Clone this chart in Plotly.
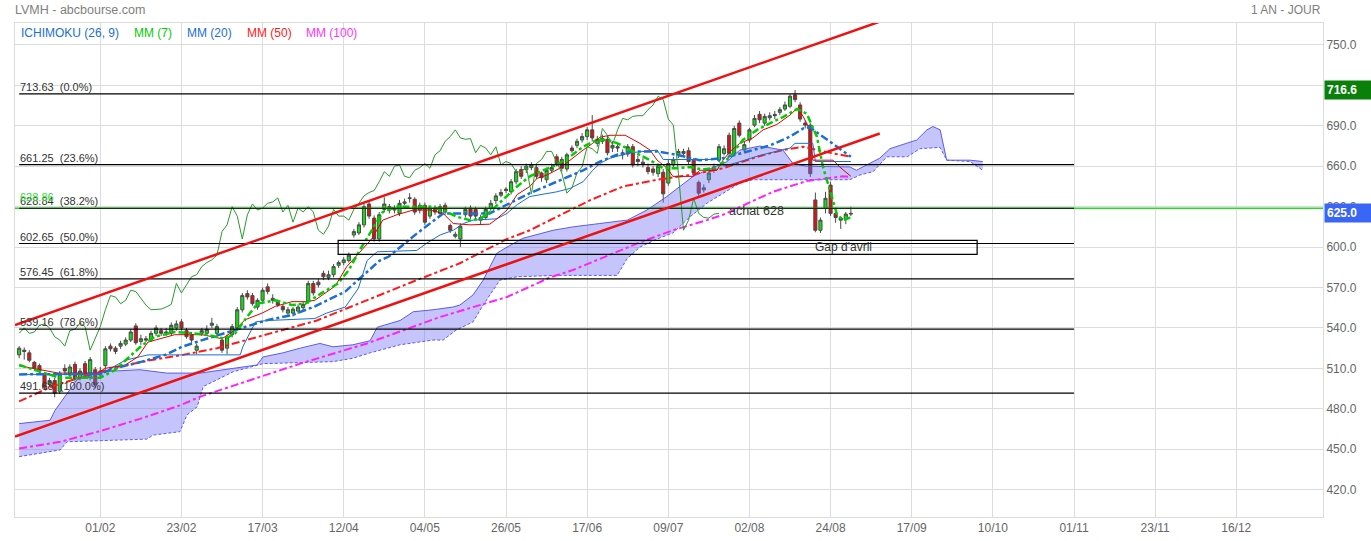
import plotly.graph_objects as go

# ---------------- data ----------------
BAR_INDEX = list(range(-16, 149))
OPEN = [520, 523.5, 521.5, 514.5, 512, 505, 498, 501, 493, 510, 505, 513, 503, 513.5, 503, 509,
        505, 512, 526.5, 525, 526.5, 528, 531, 541.5, 530, 532, 531, 536, 538, 536, 536, 540,
        544.5, 538, 535, 523.5, 536, 536, 542, 536, 531, 525, 535, 540, 553.5, 565.5, 564, 555.5,
        560.5, 570.5, 560.5, 559, 556, 551, 551, 552.5, 555, 560, 573, 574, 580.5, 577.5, 579.5, 586.5,
        588.5, 590, 609, 610.5, 616.5, 632, 621.5, 606, 628, 630, 627.5, 625, 632.5, 636, 635.5, 627.5,
        631, 623, 629, 625, 631, 616, 608, 606, 624, 629, 628, 622, 622, 629, 634.5, 638.5,
        643, 641, 648.5, 657.5, 657.5, 659, 659, 655, 650, 657, 667, 665, 658, 673.5, 675.5, 679.5,
        682, 687, 677, 678.5, 680, 673.5, 674.5, 670, 669, 674.5, 665, 663, 659, 658, 654.5, 655.5,
        647.5, 661, 668.5, 669.5, 671.5, 664.5, 648, 642.5, 650, 657, 664.5, 669.5, 683, 669.5, 692, 672,
        679.5, 690.5, 698.5, 692, 696, 698.5, 700, 702.5, 704.5, 713, 705.5, 692, 690.5, 635, 612.5, 628.8,
        646, 625, 620, 621, 624.5]
HIGH = [526.5, 525.5, 523.5, 515.5, 513.5, 507, 503, 503, 508, 513, 513, 515, 510, 515.5, 518.5, 511,
        511, 526.5, 528.5, 526.5, 530.5, 533, 539, 543.5, 535, 534, 538, 542, 540, 540, 544, 545.5,
        546.5, 540, 537, 528.5, 540, 542, 547.5, 543, 533, 535, 543, 555.5, 566, 568, 566, 562,
        570, 573, 565, 561, 557.5, 555.5, 555.5, 557.5, 559.5, 575, 575, 576.5, 582.5, 582.5, 587.5, 590,
        592.5, 596, 613.5, 618.5, 632, 634, 623.5, 626, 637, 632, 631, 635, 636, 640, 637, 633,
        633, 631, 631, 632, 633, 617.5, 611.5, 617.5, 630, 631, 630, 624, 630, 635, 640, 643,
        644.5, 650.5, 658, 660, 662, 663, 661, 656, 659, 662, 669, 667, 670, 675.5, 680.5, 684.5,
        689, 698, 682.5, 683.5, 682.5, 678.5, 677.5, 672.5, 676.5, 676.5, 668, 666, 662, 660, 662, 658,
        665, 667, 673, 673, 674, 666, 649.5, 646.5, 657, 662, 676.5, 675.5, 685, 690, 694, 678,
        688.5, 698, 701, 699, 700, 701, 704, 708, 713.5, 716.6, 707.5, 694, 692, 640.5, 622, 641,
        648.5, 627, 622, 626, 630]
LOW = [517.5, 516.5, 514.5, 508, 506, 494, 496, 488.5, 491, 506, 503, 500, 501, 504, 501, 495,
       503, 510, 522.5, 520.5, 524.5, 526.5, 529.5, 527.5, 527.5, 529.5, 529.5, 534, 534, 534, 534, 538,
       538, 532, 529, 520.5, 534, 534, 540, 534, 521.5, 520.5, 533, 538, 551.5, 561, 556.5, 553.5,
       558, 565, 558, 555.5, 551.5, 548.5, 548.5, 550.5, 552.5, 558, 564, 570, 575.5, 575.5, 577.5, 584.5,
       586.5, 588.5, 607, 609, 614.5, 621, 604, 604, 626, 625, 625, 623, 631, 633, 624, 625,
       616.5, 621, 624, 623, 624, 610.5, 606.5, 600, 622, 621, 621, 617, 620, 627, 632, 637,
       640, 639, 646.5, 650.5, 655, 657, 650.5, 648.5, 647.5, 655, 660, 656, 656, 670, 673.5, 677.5,
       679.5, 678.5, 674.5, 676.5, 668, 670.5, 670.5, 665, 667, 659, 660, 659, 654, 653, 652, 633,
       645.5, 659, 666, 668, 661, 652.5, 638, 640.5, 647.5, 655, 663, 668, 668, 668, 681.5, 670,
       677.5, 689, 692, 690, 694, 695, 698, 701, 703, 707.5, 693, 688, 652, 611, 610.5, 625,
       623, 618, 613.5, 617, 623]
CLOSE = [525, 522.5, 516, 510, 508, 496, 501, 491.5, 506, 508, 511, 502, 508, 506, 516.5, 498,
         508, 524.5, 524.5, 522.5, 528.5, 531, 537, 529, 532, 531, 536, 540, 536, 537, 542, 543,
         540, 533.5, 531, 526.5, 538, 539, 543.5, 541, 523.5, 533, 541, 553.5, 564, 563, 558, 560.5,
         568, 567, 562, 557, 553.5, 553.5, 554, 555.5, 557.5, 573, 566, 572, 578, 579.5, 585.5, 588.5,
         590.5, 594, 611.5, 616.5, 630, 623, 606, 624, 632, 627.5, 629, 632.5, 633.5, 636.5, 626, 631,
         618.5, 629, 626, 630, 626, 612.5, 609.5, 615.5, 628, 623, 623, 620, 628, 632.5, 638, 640.5,
         642, 648.5, 656, 652.5, 660, 661, 652.5, 651.5, 657, 659, 662, 658.5, 668.5, 671.5, 678.5, 682,
         687, 681, 680, 680.5, 670, 675.5, 673.5, 668.5, 674.5, 661, 663.5, 662, 656, 655.5, 660, 639.5,
         662, 665, 671, 671, 663.5, 655, 640, 644, 655, 659.5, 674.5, 673, 669.5, 688, 683, 676,
         687, 695.5, 694.5, 697, 697.5, 697.5, 702, 705.5, 712, 709.5, 695, 690.5, 654.5, 612.5, 620, 636.2,
         625, 622, 621.5, 624.5, 625]

TICK_POS = [0, 16, 32, 48, 64, 80, 96, 112, 128, 144, 160, 176, 192, 208, 224]
TICK_TEXT = ["01/02", "23/02", "17/03", "12/04", "04/05", "26/05", "17/06", "09/07",
             "02/08", "24/08", "17/09", "10/10", "01/11", "23/11", "16/12"]

MM7_X = [-16, -8, 0, 3, 5, 8.2, 10.8, 14.7, 18, 21, 24.6, 26.6, 29, 31, 34.5, 37.8, 40.4, 43.7, 46.9,
         49, 51.2, 53.2, 55.7, 58.5, 61.7, 65, 67.6, 70.3, 72.9, 74.9, 76.8, 79.4, 82.2, 84.7, 87.3,
         90, 92.6, 95.2, 97.9, 100, 102, 105, 108.4, 111, 113.7, 116.3, 118.8, 121.6, 124.2, 126.7,
         129.5, 132.1, 134.6, 137.4, 139.3, 141.3, 142.5, 143.9, 145.2, 146.4, 148]
MM7_Y = [512.5, 503, 503, 509, 516, 527, 533.5, 537, 536, 535, 532, 536, 548.5, 558, 560.5, 557, 558,
         566, 573, 583, 598, 610, 626, 630, 630, 630, 627.5, 622.5, 620, 621, 626, 635, 645, 652.5,
         657, 661, 667, 674.5, 679.5, 679.5, 677, 671, 664.5, 658.5, 658.5, 659.5, 657.5, 659, 667,
         679.5, 687, 692, 696.5, 702.5, 699, 682, 659.5, 642, 625, 620, 622]
MM20_X = [-16, -5, 0, 2.9, 8.2, 12.8, 16.1, 20.1, 24.6, 28.5, 33.1, 37.8, 42.3, 48.3, 55.1, 56.9,
          62.4, 67.6, 72, 76.8, 79.4, 84.7, 90, 95.2, 98.5, 101.9, 105, 109.8, 113.7, 118.2, 122.8,
          127.5, 132.1, 136, 138.6, 139.9, 143.9, 148]
MM20_Y = [505.5, 505.5, 506, 510, 515, 520, 526, 531, 536, 540.5, 546, 549.5, 556, 567, 590, 593,
          610, 625, 625, 625, 630, 640, 648.5, 657, 663.5, 668.5, 671, 671, 668.5, 664.5, 666, 671,
          675.5, 682, 688, 689, 678, 667]
MM50_X = [-16, -9.9, -3.4, 3.3, 9.8, 16.3, 23, 29.5, 36, 42.7, 49.2, 55.7, 62.4, 70.9, 80.2, 84.7,
          90, 96.7, 103.1, 109.8, 116.3, 122.8, 129.5, 134.6, 138.6, 142.5, 148]
MM50_Y = [485.5, 496, 504, 511, 516, 520, 525, 532, 538.5, 545.5, 555.5, 565.5, 575.5, 588, 606, 612.5,
          622.5, 635, 645, 650, 653.5, 658.5, 667, 672, 674.5, 671, 667]
MM100_X = [-16, -7.9, 0, 7.8, 15.7, 19.7, 39.4, 52.6, 66.9, 80.2, 88.7, 93.2, 106.4, 112.9, 119.6,
           122.8, 132.6, 139.3, 146.4, 148]
MM100_Y = [450.5, 455.5, 463.5, 472.5, 482.5, 489, 513.5, 528.5, 548, 563, 577.5, 583, 603.5, 612.5,
           620, 624, 641, 649, 652.5, 652]
TENKAN_X = [-16, -11.4, -8.3, -0.4, 0.9, 4.9, 7.4, 9.4, 14.7, 20.1, 24, 26.6, 28.5, 31.9, 34.5, 37.8,
            40.4, 42.3, 44.3, 46.3, 48.6, 51.2, 53.5, 55.7, 58.5, 61.7, 65, 67.6, 69.6, 72.9, 76.8,
            78.2, 80.2, 82.2, 84.7, 86.1, 88.1, 90.6, 92.6, 95.2, 97.1, 98.5, 100.5, 103.5, 106.4,
            108.4, 109.8, 111.8, 112.9, 116.9, 118.2, 121.6, 122.8, 124.2, 126.1, 128.7, 130.7, 133.4,
            136, 137.4, 138.6, 139.9, 140.5, 144.5, 145.8, 148]
TENKAN_Y = [512, 509, 506.5, 506.5, 510, 512.5, 518.5, 529.5, 535, 535, 532, 538.5, 546, 551, 556,
            559.5, 559.5, 560.5, 566, 571, 585.5, 596, 606, 620, 624, 627.5, 627.5, 625, 617.5, 616.5,
            617, 621, 627.5, 639, 645, 651, 653.5, 658.5, 664.5, 672, 677, 681.5, 683, 683, 677, 672,
            664.5, 658.5, 652.5, 652.5, 657, 657, 664.5, 671, 677, 681, 687, 691, 698, 703, 697, 687,
            664.5, 664.5, 659.5, 652.5]
KIJUN_X = [-16, -0.4, 0.9, 4.9, 9.4, 27.6, 28.1, 30.6, 33, 42.3, 44.6, 48.3, 50.9, 52.6, 54.6, 62.4,
           64.4, 67, 69.6, 71.6, 73.5, 78.2, 80.2, 82.2, 84.7, 87.3, 90, 92.6, 95.2, 97.1, 98.5, 100.5,
           104.5, 109.8, 111, 121.6, 123, 126.7, 130, 136, 137, 140.5, 141, 148]
KIJUN_Y = [505.5, 505.5, 507.5, 516, 520, 520, 526, 544.5, 545.5, 547, 551, 555.5, 569.5, 590, 596.5,
           597.5, 603, 609, 612.5, 617.5, 620, 621, 625, 631.5, 637.5, 639, 641, 643.5, 648.5, 657, 662,
           666, 670, 672, 665, 665, 660, 664, 668, 673.5, 677, 677, 663.5, 663.5]
CLOUD_TOP_X = [-16, -9.9, -8.9, -6.6, -4.6, 0, 7.8, 13.1, 19.7, 26.2, 30.9, 32.1, 36, 39.4, 43.3, 45.9,
               49.8, 53.2, 54.6, 59.1, 61.7, 65.6, 69.5, 70.9, 73.5, 75.5, 78.2, 80.2, 83.3, 89.3, 93.2,
               98.5, 103.9, 107.8, 111.7, 114.3, 116.9, 119.6, 123.6, 126.1, 130.1, 134.6, 136.6, 139.3,
               147.8, 149.1, 151.2, 153.7, 155.7, 159.1, 161, 163, 164.2, 165.6, 166.9, 171.5, 174]
CLOUD_TOP_Y = [469, 471.5, 479, 491.5, 501.5, 507.5, 509, 506.5, 506.5, 510, 512.5, 518.5, 521.5, 525,
               528.5, 526, 527.5, 530.5, 540.5, 545.5, 552, 553.5, 555.5, 557, 564.5, 575.5, 595.5, 600,
               606.5, 612.5, 615, 617.5, 620, 627.5, 637.5, 645, 652.5, 657, 663.5, 672, 675, 672, 662,
               660, 659.5, 657, 661, 666, 673, 677, 679.5, 687, 689.5, 687, 664.5, 664.5, 663.5]
CLOUD_BOT_X = [-16, -11.9, -7.9, -6.6, 0, 9.2, 10.4, 15.7, 17.1, 19.1, 19.7, 20.3, 26.2, 32.1, 45.9,
               49.8, 53.2, 59.1, 65.6, 67.6, 70.2, 73.5, 75.5, 78.8, 82.2, 90, 101.9, 103.9, 106.4,
               109.8, 112.9, 116.3, 119.6, 122.8, 126.1, 128.7, 147.8, 149.8, 152.4, 155.1, 159.1,
               161.6, 165.6, 166.9, 171.5, 174]
CLOUD_BOT_Y = [444.5, 447, 449.5, 455.5, 456.5, 457.5, 460.5, 463, 475.5, 481.5, 489, 496.5, 507.5,
               513.5, 515, 517.5, 521.5, 527.5, 531, 531, 538.5, 544.5, 557, 575.5, 578, 579, 579,
               591.5, 600, 606, 610.5, 622.5, 632.5, 640, 647.5, 650, 650, 653.5, 656, 667, 667, 673,
               674, 664.5, 663.5, 657]

CHIKOU_SHIFT = 26
TREND_X = [-16.82, 153.7]
TREND_UPPER = [542.1, 767.3]
TREND_LOWER = [459.3, 684.3]

FIB_LEVELS = [713.63, 661.25, 628.84, 602.65, 576.45, 539.16, 491.68]
FIB_PCT = ["0.0%", "23.6%", "38.2%", "50.0%", "61.8%", "78.6%", "100.0%"]
FIB_X = [-16, 192]

BUY_LEVEL = 628.86
GAP_X = [46.9, 172.9]
GAP_Y = [594.6, 605.0]
GAP_LABEL_POS = (146.5, 600.3)
ACHAT_LABEL_POS = (129.3, 627.0)
HIGH_PRICE = 716.6
LAST_PRICE = 625.0

X_RANGE = [-16.82, 241.1]
Y_RANGE = [399.7, 766.3]
Y_TICKS = [420, 450, 480, 510, 540, 570, 600, 630, 660, 690, 720, 750]

FONT = "Liberation Sans, Arial, sans-serif"
BLUE = "#1a6fd4"
PLOT_W = 1371 - 15 - 48

fig = go.Figure()

# Ichimoku cloud
fig.add_trace(go.Scatter(x=CLOUD_BOT_X, y=CLOUD_BOT_Y, mode="lines",
                         line=dict(color="#5b5bf0", width=1, dash="3px,2px"), hoverinfo="skip"))
fig.add_trace(go.Scatter(x=CLOUD_TOP_X, y=CLOUD_TOP_Y, mode="lines",
                         line=dict(color="#5b5bf0", width=1), fill="tonexty",
                         fillcolor="rgba(110,110,245,0.40)", hoverinfo="skip"))

# buy level line (green, full width)
fig.add_trace(go.Scatter(x=X_RANGE, y=[BUY_LEVEL, BUY_LEVEL], mode="lines",
                         line=dict(color="#22dd22", width=1.5), hoverinfo="skip"))

# Candles
fig.add_trace(go.Candlestick(
    x=BAR_INDEX, open=OPEN, high=HIGH, low=LOW, close=CLOSE,
    increasing=dict(fillcolor="#11dd11", line=dict(color="#4a4a4a", width=1)),
    decreasing=dict(fillcolor="#e01010", line=dict(color="#4a4a4a", width=1)),
    whiskerwidth=0, hoverinfo="skip"))

# Moving averages and Ichimoku lines
fig.add_trace(go.Scatter(x=MM100_X, y=MM100_Y, mode="lines",
                         line=dict(color="#ff22ff", width=2, dash="8px,3px,3px,3px")))
fig.add_trace(go.Scatter(x=MM50_X, y=MM50_Y, mode="lines",
                         line=dict(color="#ff1a1a", width=2, dash="8px,3px,3px,3px")))
fig.add_trace(go.Scatter(x=KIJUN_X, y=KIJUN_Y, mode="lines",
                         line=dict(color=BLUE, width=1)))
fig.add_trace(go.Scatter(x=TENKAN_X, y=TENKAN_Y, mode="lines",
                         line=dict(color="#e00000", width=1)))
chik_x = [i - CHIKOU_SHIFT for i in BAR_INDEX if i - CHIKOU_SHIFT >= BAR_INDEX[0]]
chik_y = [c for i, c in zip(BAR_INDEX, CLOSE) if i - CHIKOU_SHIFT >= BAR_INDEX[0]]
fig.add_trace(go.Scatter(x=chik_x, y=chik_y, mode="lines",
                         line=dict(color="#2a9a2a", width=1)))
fig.add_trace(go.Scatter(x=MM20_X, y=MM20_Y, mode="lines",
                         line=dict(color=BLUE, width=2.5, dash="8px,3px,3px,3px")))
fig.add_trace(go.Scatter(x=MM7_X, y=MM7_Y, mode="lines",
                         line=dict(color="#00cc00", width=2.5, dash="7px,3px,3px,3px")))

# Fibonacci lines
for lvl in FIB_LEVELS:
    fig.add_trace(go.Scatter(x=FIB_X, y=[lvl, lvl], mode="lines",
                             line=dict(color="#000000", width=1.2), hoverinfo="skip"))

# trend channel
fig.add_trace(go.Scatter(x=TREND_X, y=TREND_UPPER, mode="lines",
                         line=dict(color="#ee1111", width=2.5)))
fig.add_trace(go.Scatter(x=TREND_X, y=TREND_LOWER, mode="lines",
                         line=dict(color="#ee1111", width=2.5)))

# Gap rectangle
fig.add_shape(type="rect", xref="x", yref="y", x0=GAP_X[0], x1=GAP_X[1], y0=GAP_Y[0], y1=GAP_Y[1],
              line=dict(color="#000000", width=1.2), fillcolor="rgba(0,0,0,0)", layer="above")

ann = []
for lvl, pct in zip(FIB_LEVELS, FIB_PCT):
    ann.append(dict(x=FIB_X[0], y=lvl, xref="x", yref="y", xanchor="left", yanchor="bottom",
                    text=f"{lvl:.2f}\u00a0\u00a0({pct})", showarrow=False, borderpad=0, yshift=0,
                    font=dict(family=FONT, size=11, color="#333333")))
ann.append(dict(x=FIB_X[0], y=BUY_LEVEL, xref="x", yref="y", xanchor="left", yanchor="bottom",
                text=f"{BUY_LEVEL:.2f}", showarrow=False, borderpad=0, yshift=4,
                font=dict(family=FONT, size=11, color="#33dd33")))
ann.append(dict(x=GAP_LABEL_POS[0], y=GAP_LABEL_POS[1], xref="x", yref="y", text="Gap d'avril",
                showarrow=False, font=dict(family=FONT, size=12, color="#333333")))
ann.append(dict(x=ACHAT_LABEL_POS[0], y=ACHAT_LABEL_POS[1], xref="x", yref="y", text="achat 628",
                showarrow=False, font=dict(family=FONT, size=12.5, color="#333333")))
# price flags
ann.append(dict(x=1, y=HIGH_PRICE, xref="paper", yref="y", xanchor="left", yanchor="middle",
                text=f"<b>{HIGH_PRICE:.1f}</b>", showarrow=False, bgcolor="#0a7f0a", width=42,
                align="left", borderpad=2, xshift=1,
                font=dict(family=FONT, size=12, color="#ffffff")))
ann.append(dict(x=1, y=LAST_PRICE, xref="paper", yref="y", xanchor="left", yanchor="middle",
                text=f"<b>{LAST_PRICE:.1f}</b>", showarrow=False, bgcolor="#3a66f5", width=42,
                align="left", borderpad=2, xshift=1,
                font=dict(family=FONT, size=12, color="#ffffff")))
# titles
ann.append(dict(x=0, y=1, xref="paper", yref="paper", xanchor="left", yanchor="bottom",
                text="LVMH - abcbourse.com", showarrow=False, yshift=4, xshift=-2,
                font=dict(family=FONT, size=12.5, color="#808080")))
ann.append(dict(x=1, y=1, xref="paper", yref="paper", xanchor="right", yanchor="bottom",
                text="1 AN - JOUR", showarrow=False, yshift=4,
                font=dict(family=FONT, size=12, color="#808080")))
# legend row
legend_items = [("ICHIMOKU (26, 9)", BLUE, 19), ("MM (7)", "#00cc00", 132), ("MM (20)", BLUE, 185),
                ("MM (50)", "#ff2020", 245), ("MM (100)", "#ff33ff", 304)]
for txt, col, px in legend_items:
    ann.append(dict(x=(px - 15) / PLOT_W, y=1, xref="paper", yref="paper", xanchor="left", yanchor="top",
                    text=txt, showarrow=False, yshift=-1,
                    font=dict(family=FONT, size=12, color=col)))

fig.update_layout(
    width=1371, height=541,
    margin=dict(l=15, r=48, t=23, b=24, autoexpand=False),
    paper_bgcolor="#ffffff", plot_bgcolor="#ffffff",
    showlegend=False,
    boxgap=0.12,
    annotations=ann,
    font=dict(family=FONT, size=12, color="#666666"),
    xaxis=dict(range=X_RANGE, type="linear", tickvals=TICK_POS, ticktext=TICK_TEXT,
               showgrid=True, gridcolor="#dcdcdc", gridwidth=1, zeroline=False, automargin=False,
               showline=True, linecolor="#dcdcdc", mirror=True, ticks="",
               rangeslider=dict(visible=False),
               tickfont=dict(family=FONT, size=12, color="#666666")),
    yaxis=dict(range=Y_RANGE, side="right", tickvals=Y_TICKS, tickformat=".1f",
               showgrid=True, gridcolor="#dcdcdc", gridwidth=1, zeroline=False, automargin=False,
               showline=True, linecolor="#dcdcdc", mirror=True, ticks="",
               tickfont=dict(family=FONT, size=12, color="#666666")),
)

fig.write_html("out.html", config={"displayModeBar": False},
               post_script="document.body.style.margin='0px';document.body.style.overflow='hidden';")
